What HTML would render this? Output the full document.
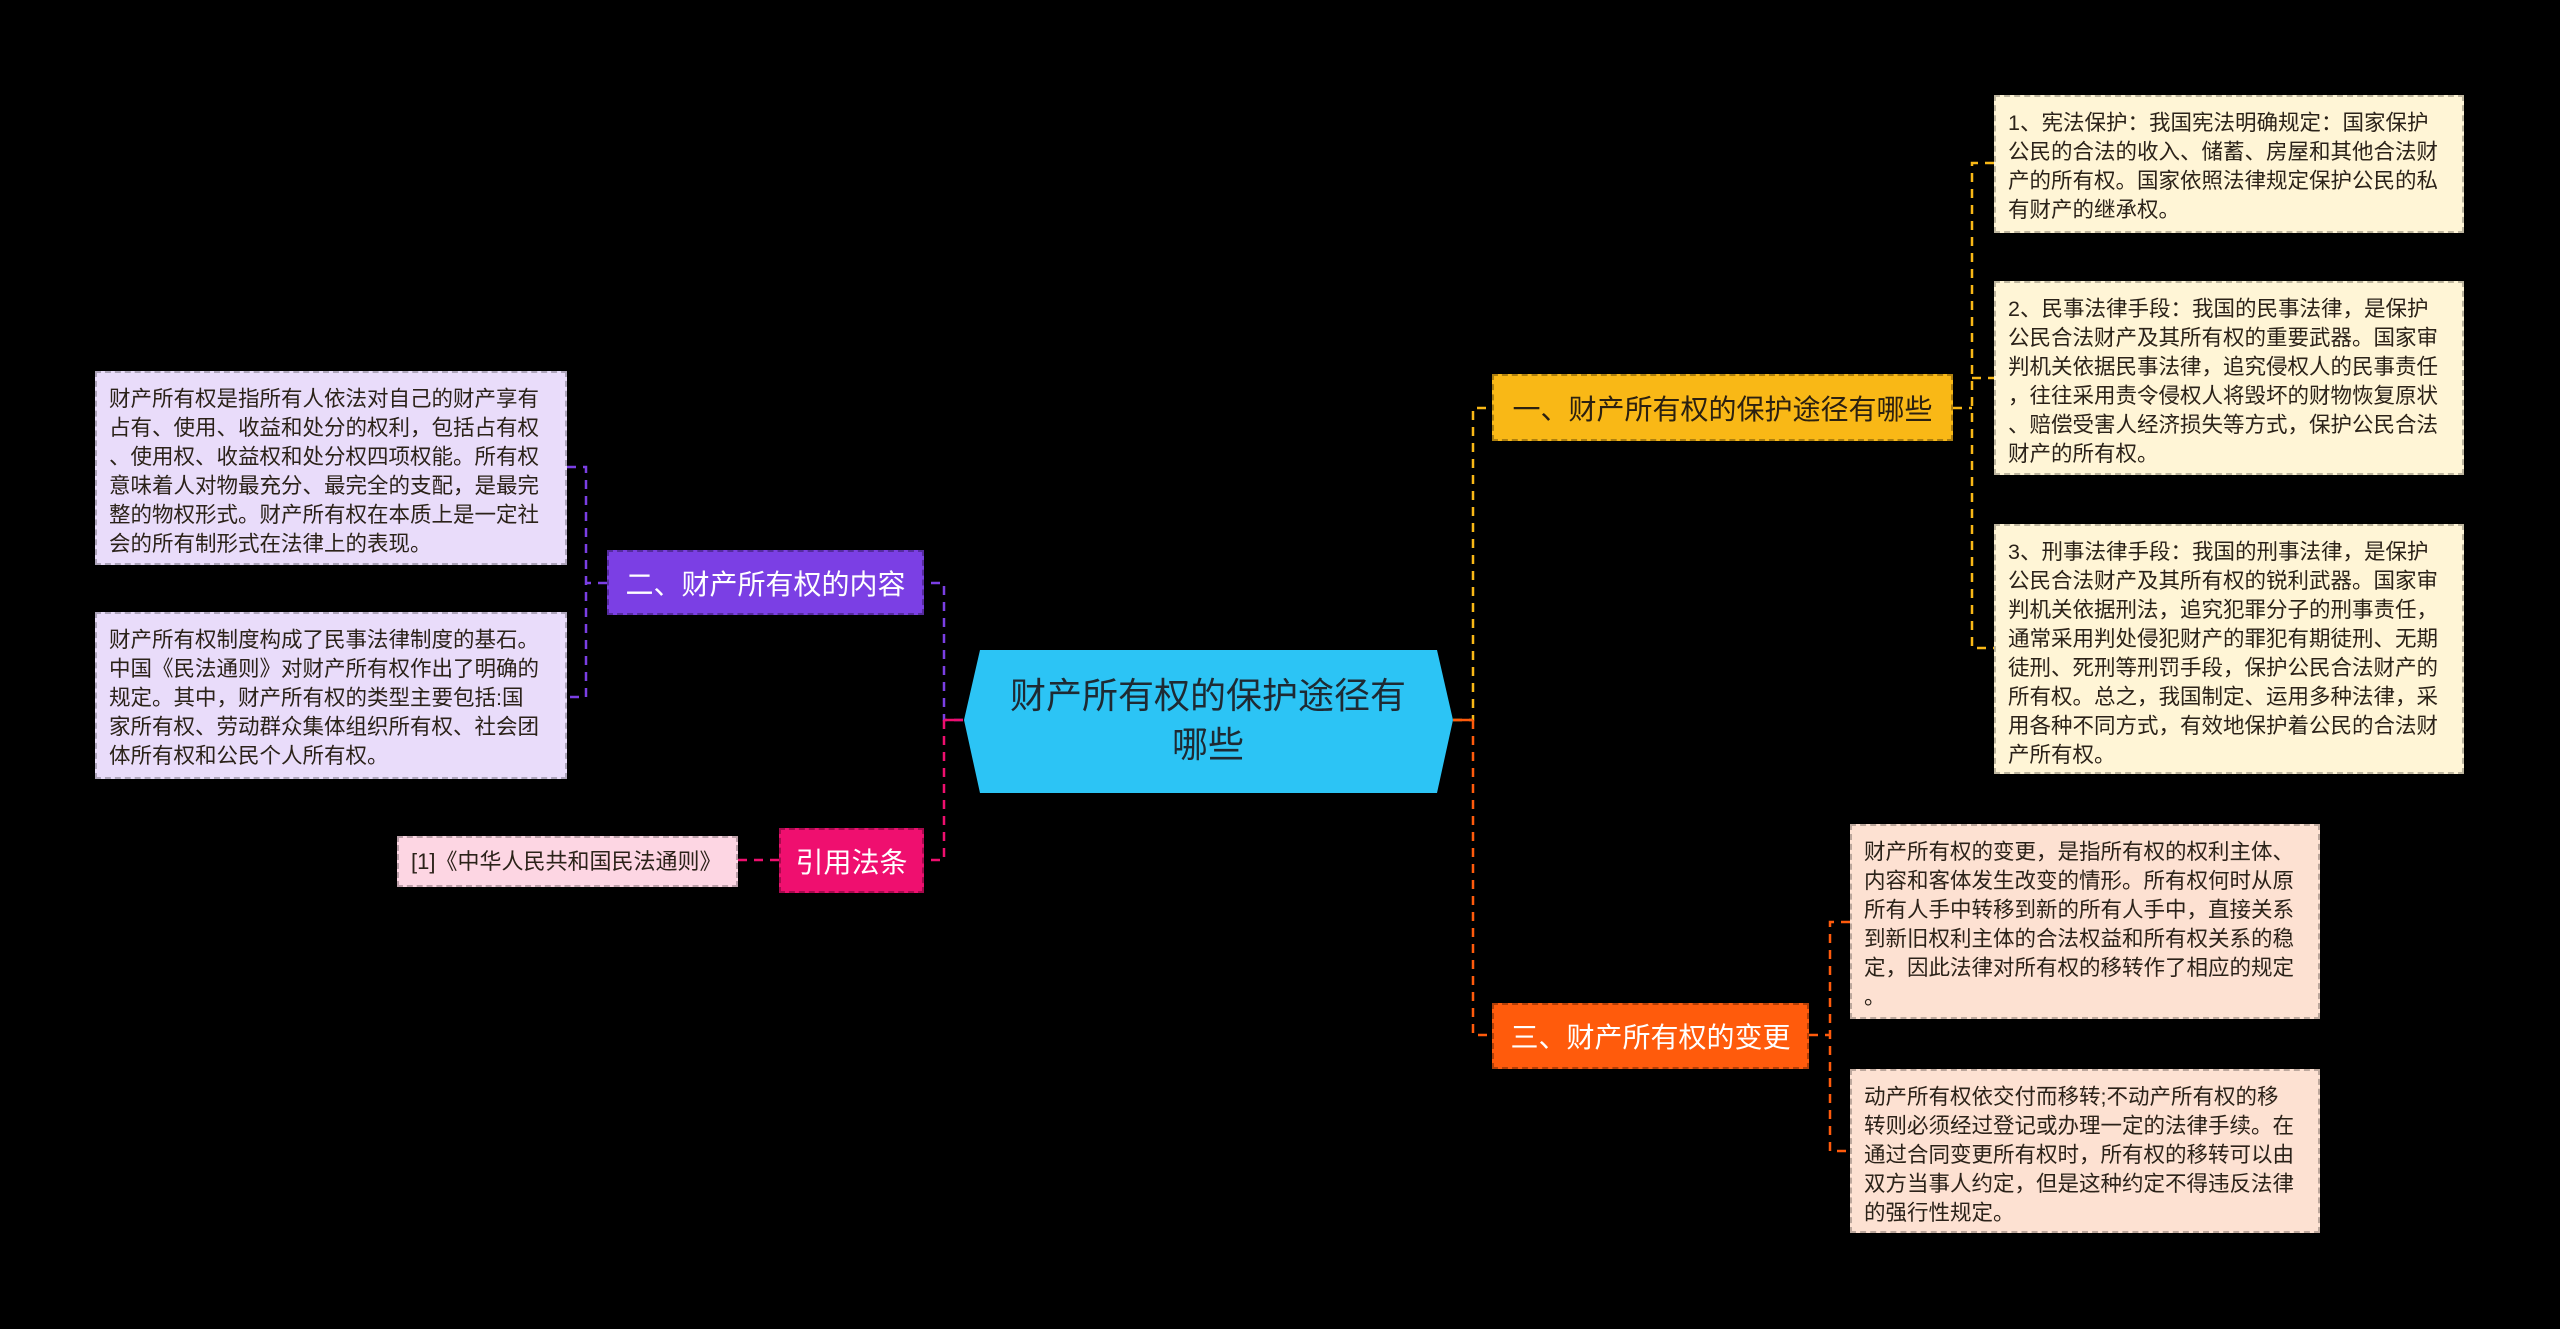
<!DOCTYPE html>
<html><head><meta charset="utf-8"><style>
html,body{margin:0;padding:0;background:#000;}
body{width:2560px;height:1329px;position:relative;overflow:hidden;font-family:"Liberation Sans","Noto Sans CJK SC",sans-serif;}
.b{position:absolute;box-sizing:border-box;white-space:nowrap;}
.leaf{font-size:21.5px;line-height:29px;color:#2b2219;padding:12px 0 0 12px;border:2px dashed rgba(0,0,0,0.25);}
.main{font-size:28px;color:#fff;display:flex;align-items:center;justify-content:center;border:2px dashed rgba(0,0,0,0.3);}
.y{background:#fff5d6;}
.o{background:#fde1d2;}
.p{background:#e9dcfa;}
.k{background:#fdd6e3;}
</style></head><body>
<svg width="2560" height="1329" style="position:absolute;left:0;top:0">
<g fill="none" stroke-width="2.5" stroke-dasharray="9 7">
<path d="M1453 720 H1473 V408 H1492" stroke="#f9b816"/>
<path d="M1473 720 V1035 H1492" stroke="#ff5b0c"/>
<path d="M1453 720 H1473" stroke="#ff5b0c" stroke-dasharray="none"/>
<path d="M963 720 H944 V583 H924" stroke="#7b3fe4"/>
<path d="M944 720 V860 H924" stroke="#ef0f6f"/>
<path d="M963 720 H944" stroke="#ef0f6f" stroke-dasharray="none"/>
<path d="M1953 408 H1972 M1994 163 H1972 V648 H1994 M1972 378 H1994" stroke="#f9b816"/>
<path d="M607 583 H586 M567 467 H586 V697 H567" stroke="#7b3fe4"/>
<path d="M1809 1035 H1830 M1850 922 H1830 V1151 H1850" stroke="#ff5b0c"/>
<path d="M779 860 H738" stroke="#ef0f6f"/>
</g>
<polygon points="980,650 1437,650 1453,720 1437,793 980,793 964,720" fill="#2cc4f5"/>
<text x="1208" y="708" font-size="36" fill="#1e2a33" text-anchor="middle" font-family="Liberation Sans, Noto Sans CJK SC, sans-serif">财产所有权的保护途径有</text>
<text x="1208" y="757" font-size="36" fill="#1e2a33" text-anchor="middle" font-family="Liberation Sans, Noto Sans CJK SC, sans-serif">哪些</text>
</svg>

<div class="b main" style="left:1492px;top:374px;width:461px;height:67px;background:#f9b816;color:#2b2010;">一、财产所有权的保护途径有哪些</div>
<div class="b main" style="left:607px;top:550px;width:317px;height:65px;background:#7b3fe4;">二、财产所有权的内容</div>
<div class="b main" style="left:779px;top:828px;width:145px;height:65px;background:#ef0f6f;">引用法条</div>
<div class="b main" style="left:1492px;top:1003px;width:317px;height:66px;background:#ff5b0c;">三、财产所有权的变更</div>

<div class="b leaf y" style="left:1994px;top:95px;width:470px;height:138px;">1、宪法保护：我国宪法明确规定：国家保护<br>公民的合法的收入、储蓄、房屋和其他合法财<br>产的所有权。国家依照法律规定保护公民的私<br>有财产的继承权。</div>
<div class="b leaf y" style="left:1994px;top:281px;width:470px;height:194px;">2、民事法律手段：我国的民事法律，是保护<br>公民合法财产及其所有权的重要武器。国家审<br>判机关依据民事法律，追究侵权人的民事责任<br>，往往采用责令侵权人将毁坏的财物恢复原状<br>、赔偿受害人经济损失等方式，保护公民合法<br>财产的所有权。</div>
<div class="b leaf y" style="left:1994px;top:524px;width:470px;height:250px;">3、刑事法律手段：我国的刑事法律，是保护<br>公民合法财产及其所有权的锐利武器。国家审<br>判机关依据刑法，追究犯罪分子的刑事责任，<br>通常采用判处侵犯财产的罪犯有期徒刑、无期<br>徒刑、死刑等刑罚手段，保护公民合法财产的<br>所有权。总之，我国制定、运用多种法律，采<br>用各种不同方式，有效地保护着公民的合法财<br>产所有权。</div>

<div class="b leaf o" style="left:1850px;top:824px;width:470px;height:195px;">财产所有权的变更，是指所有权的权利主体、<br>内容和客体发生改变的情形。所有权何时从原<br>所有人手中转移到新的所有人手中，直接关系<br>到新旧权利主体的合法权益和所有权关系的稳<br>定，因此法律对所有权的移转作了相应的规定<br>。</div>
<div class="b leaf o" style="left:1850px;top:1069px;width:470px;height:164px;">动产所有权依交付而移转;不动产所有权的移<br>转则必须经过登记或办理一定的法律手续。在<br>通过合同变更所有权时，所有权的移转可以由<br>双方当事人约定，但是这种约定不得违反法律<br>的强行性规定。</div>

<div class="b leaf p" style="left:95px;top:371px;width:472px;height:194px;">财产所有权是指所有人依法对自己的财产享有<br>占有、使用、收益和处分的权利，包括占有权<br>、使用权、收益权和处分权四项权能。所有权<br>意味着人对物最充分、最完全的支配，是最完<br>整的物权形式。财产所有权在本质上是一定社<br>会的所有制形式在法律上的表现。</div>
<div class="b leaf p" style="left:95px;top:612px;width:472px;height:167px;">财产所有权制度构成了民事法律制度的基石。<br>中国《民法通则》对财产所有权作出了明确的<br>规定。其中，财产所有权的类型主要包括:国<br>家所有权、劳动群众集体组织所有权、社会团<br>体所有权和公民个人所有权。</div>

<div class="b leaf k" style="left:397px;top:836px;width:341px;height:51px;padding:9px 0 0 12px;font-size:22px;">[1]《中华人民共和国民法通则》</div>
</body></html>
